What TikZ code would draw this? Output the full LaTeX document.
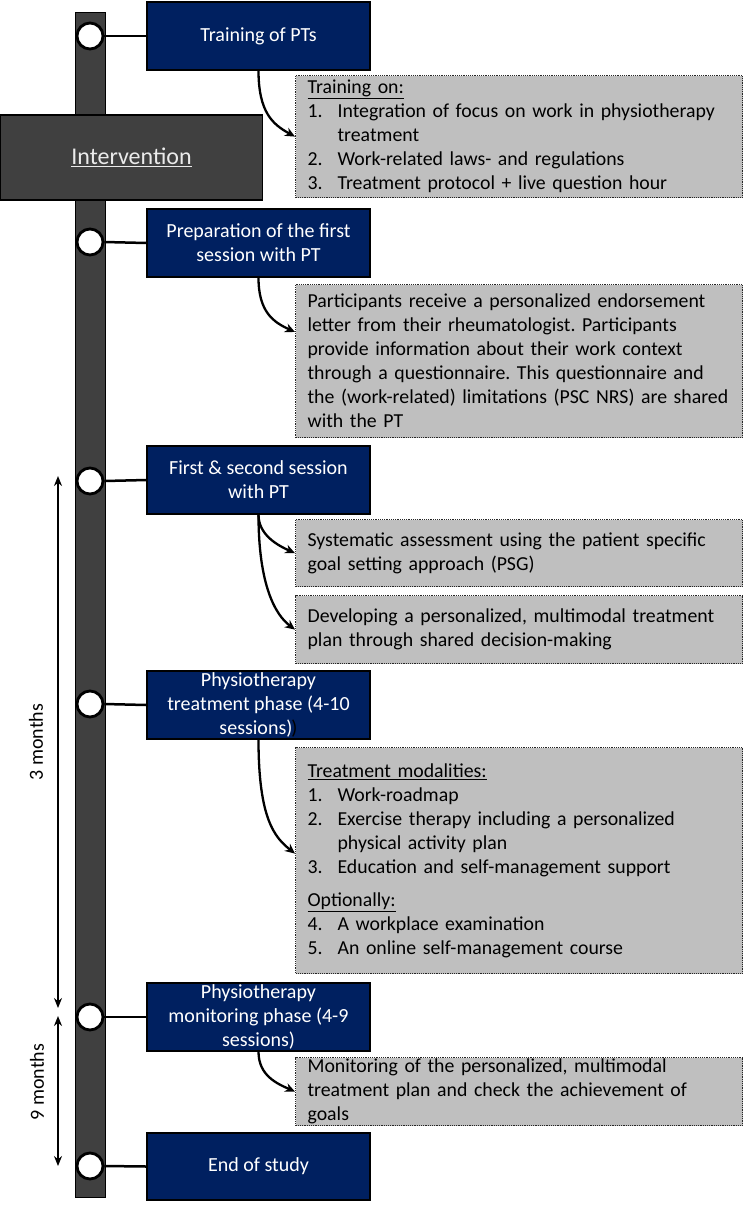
\documentclass[tikz,border=0pt]{standalone}
\usepackage{fontspec}
\setmainfont{Carlito}
\usetikzlibrary{arrows.meta,calc}
\definecolor{navy}{HTML}{002060}
\definecolor{bardark}{HTML}{404040}
\definecolor{notegray}{HTML}{BFBFBF}
\newcommand{\itemno}[1]{\makebox[30pt][l]{#1}}
\newcommand{\itemgap}{\hspace*{30pt}}
\frenchspacing
\begin{document}
\begin{tikzpicture}[x=1pt,y=-1pt,
  phase/.style={draw=black, line width=1.2pt, fill=navy, text=white, align=center,
    minimum width=223pt, minimum height=68pt, inner sep=1pt,
    font=\fontsize{20}{24}\selectfont},
  notebox/.style={draw=black!85, densely dotted, line width=1.2pt, fill=notegray, text=black,
    align=left, text width=423pt, inner xsep=12pt, inner ysep=1pt, anchor=north west,
    font=\fontsize{19.8}{24}\selectfont},
  dot/.style={circle, draw=black, line width=2.8pt, fill=white, minimum size=26pt, inner sep=0pt},
  link/.style={line width=2.5pt, draw=black},
  curvearrow/.style={line width=2.3pt, draw=black, -{Stealth[length=10pt,width=9pt]}},
  spanarrow/.style={line width=2pt, draw=black, {Stealth[length=10pt,width=8pt]}-{Stealth[length=10pt,width=8pt]}},
  spanlabel/.style={rotate=90, font=\fontsize{20}{24}\selectfont, inner sep=0pt}
]
\useasboundingbox (0,0) rectangle (746,1208);

% timeline bar
\node (bar) [draw=black, line width=0.8pt, fill=bardark, minimum width=30pt, minimum height=1185pt, inner sep=0pt] at (90,604.5) {};

% intervention box
\node (interv) [draw=black, line width=1.8pt, fill=bardark, text=white!92!black,
  minimum width=262pt, minimum height=85pt, font=\fontsize{24}{28}\selectfont] at (131.5,157.5) {\underline{Intervention}};

% phase boxes
\node (b1) [phase] at (258.5,36) {Training of PTs};
\node (b2) [phase] at (258.5,243) {Preparation of the first\\session with PT};
\node (b3) [phase] at (258.5,480) {First \& second session\\with PT};
\node (b4) [phase] at (258.5,705) {Physiotherapy\\treatment phase (4-10\\sessions)\kern-1pt\textcolor{black}{)}};
\node (b5) [phase] at (258.5,1017) {Physiotherapy\\monitoring phase (4-9\\sessions)};
\node (b6) [phase, minimum height=67pt] at (258.5,1166.5) {End of study};

% circles
\node (c1) [dot] at (90,36) {};
\node (c2) [dot] at (90,242) {};
\node (c3) [dot] at (90,481) {};
\node (c4) [dot] at (90,704) {};
\node (c5) [dot] at (90,1017) {};
\node (c6) [dot] at (90,1166) {};
\foreach \i in {1,...,6} {\draw[link] (c\i.east) -- (b\i.west);}

% note boxes
\node (g1) [notebox, minimum height=122pt] at (295,75) {\underline{Training on:}\\
\itemno{1.}Integration of focus on work in physiotherapy\\
\itemgap treatment\\
\itemno{2.}Work-related laws- and regulations\\
\itemno{3.}Treatment protocol + live question hour};

\node (g2) [notebox, minimum height=153pt] at (295,284) {Participants receive a personalized endorsement\\
letter from their rheumatologist. Participants\\
provide information about their work context\\
through a questionnaire. This questionnaire and\\
the (work-related) limitations (PSC NRS) are shared\\
with the PT};

\node (g3) [notebox, minimum height=67pt] at (295,519) {Systematic assessment using the patient specific\\goal setting approach (PSG)};
\node (g4) [notebox, minimum height=68pt] at (295,595) {Developing a personalized, multimodal treatment\\plan through shared decision-making};

\node (g5) [notebox, minimum height=226pt] at (295,747) {\underline{Treatment modalities:}\\
\itemno{1.}Work-roadmap\\
\itemno{2.}Exercise therapy including a personalized\\
\itemgap physical activity plan\\
\itemno{3.}Education and self-management support\\[9pt]
\underline{Optionally:}\\
\itemno{4.}A workplace examination\\
\itemno{5.}An online self-management course};

\node (g6) [notebox, minimum height=68pt] at (295,1057) {Monitoring of the personalized, multimodal\\
treatment plan and check the achievement of\\
goals};

% curved arrows
\draw[curvearrow] (b1.south) .. controls +(0,42) and +(-22,-12) .. (g1.west);
\draw[curvearrow] (b2.south) .. controls +(0,34) and +(-22,-10) .. ($(g2.north west)+(0,48)$);
\draw[curvearrow] (b3.south) .. controls +(0,20) and +(-18,-8) .. (g3.west);
\draw[curvearrow] (b3.south) .. controls +(0,70) and +(-20,-15) .. (g4.west);
\draw[curvearrow] (b4.south) .. controls +(0,80) and +(-20,-16) .. ($(g5.west)+(0,-7)$);
\draw[curvearrow] (b5.south) .. controls +(0,24) and +(-18,-8) .. (g6.west);

% duration arrows
\coordinate (m3top) at (58,476);
\coordinate (m3bot) at (58,1008);
\coordinate (m9top) at (58,1016);
\coordinate (m9bot) at (58,1166);
\draw[spanarrow] (m3top) -- (m3bot);
\draw[spanarrow] (m9top) -- (m9bot);
\node (l3) [spanlabel] at (36,742) {3 months};
\node (l9) [spanlabel] at (37,1082) {9 months};
\end{tikzpicture}
\end{document}
